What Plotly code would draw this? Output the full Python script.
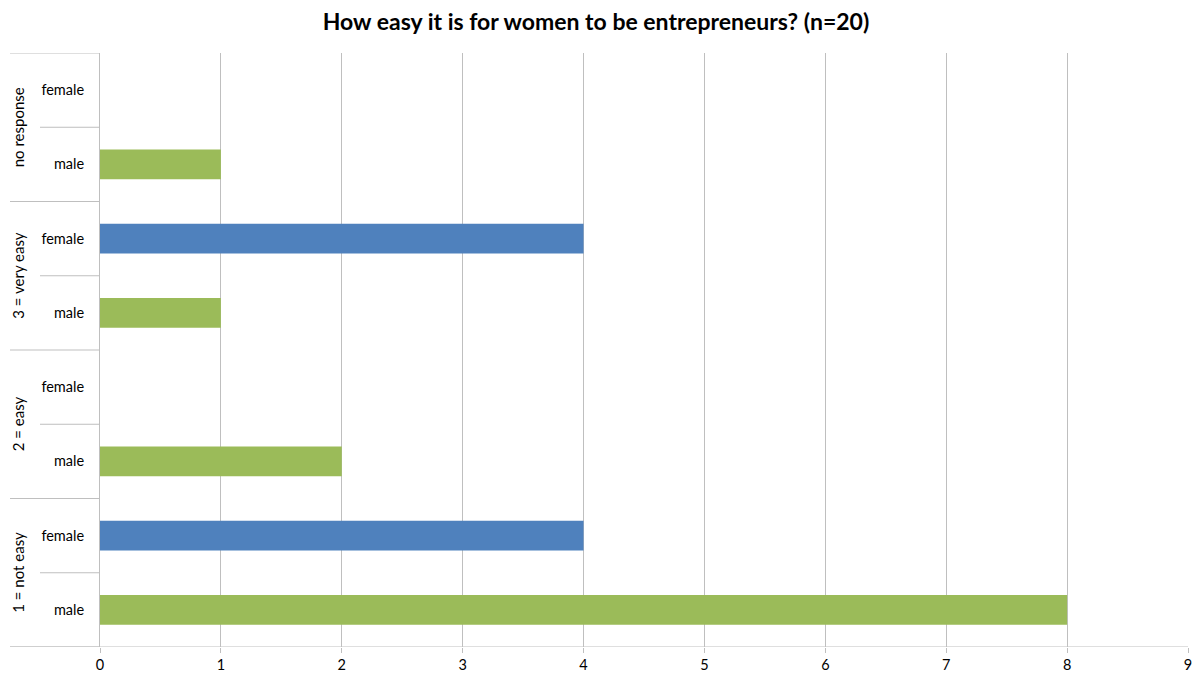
import plotly.graph_objects as go

title = "How easy it is for women to be entrepreneurs? (n=20)"
groups = ["1 = not easy", "2 = easy", "3 = very easy", "no response"]
genders = ["male", "female"]
male_values = [8, 2, 1, 1]
female_values = [4, None, 4, None]
x_ticks = [0, 1, 2, 3, 4, 5, 6, 7, 8, 9]

MALE_COLOR = "#9BBB59"
FEMALE_COLOR = "#4F81BD"
GRID = "#BFBFBF"
FONT = "Lato"

W, H = 1192, 675
ML, MR, MT, MB = 100, 4, 53, 28
plot_w = W - ML - MR

n_rows = len(groups) * len(genders)
male_pos = [i * 2 for i in range(len(groups))]
female_pos = [i * 2 + 1 for i in range(len(groups))]

fig = go.Figure()
fig.add_trace(go.Bar(y=male_pos, x=male_values, orientation="h", width=0.4,
                     marker=dict(color=MALE_COLOR, line=dict(width=0)), name="male"))
fig.add_trace(go.Bar(y=female_pos, x=female_values, orientation="h", width=0.4,
                     marker=dict(color=FEMALE_COLOR, line=dict(width=0)), name="female"))

tickvals = list(range(n_rows))
ticktext = [genders[i % 2] for i in range(n_rows)]

def px2paper(px):
    return (px - ML) / plot_w

shapes = []
for b in range(n_rows + 1):
    yv = b - 0.5
    x0 = px2paper(10) if b % 2 == 0 else px2paper(40)
    shapes.append(dict(type="line", xref="paper", yref="y", x0=x0, x1=0, y0=yv, y1=yv,
                       line=dict(color=GRID, width=1)))
shapes.append(dict(type="line", xref="paper", yref="y", x0=px2paper(10), x1=1,
                   y0=-0.5, y1=-0.5, line=dict(color=GRID, width=1)))

annotations = []
for gi, g in enumerate(groups):
    annotations.append(dict(text=g, xref="paper", yref="y", x=px2paper(18), y=gi * 2 + 0.5,
                            textangle=-90, showarrow=False, xanchor="center", yanchor="middle",
                            font=dict(family=FONT, size=15, color="#000000")))

fig.update_layout(
    width=W, height=H,
    margin=dict(l=ML, r=MR, t=MT, b=MB, autoexpand=False),
    paper_bgcolor="white", plot_bgcolor="white",
    showlegend=False,
    title=dict(text="<b>" + title + "</b>", x=0.5, xanchor="center", y=1 - 22 / H, yanchor="middle",
               font=dict(family=FONT, size=23, color="#000000")),
    font=dict(family=FONT, size=14.5, color="#000000"),
    bargap=0.6,
    shapes=shapes,
    annotations=annotations,
)
fig.update_xaxes(range=[0, 9], tickvals=x_ticks, showgrid=True, gridcolor=GRID, gridwidth=1,
                 zeroline=False, showline=False, ticks="outside", ticklen=5, tickcolor=GRID,
                 ticklabeloverflow="allow",
                 tickfont=dict(family=FONT, size=14.5, color="#000000"), automargin=False)
fig.update_yaxes(range=[-0.5, n_rows - 0.5], tickvals=tickvals, ticktext=ticktext,
                 showgrid=False, zeroline=False, showline=True, linecolor=GRID, linewidth=1,
                 ticks="", ticklabelstandoff=12,
                 tickfont=dict(family=FONT, size=14.5, color="#000000"), automargin=False)

fig.write_html("out.html")
